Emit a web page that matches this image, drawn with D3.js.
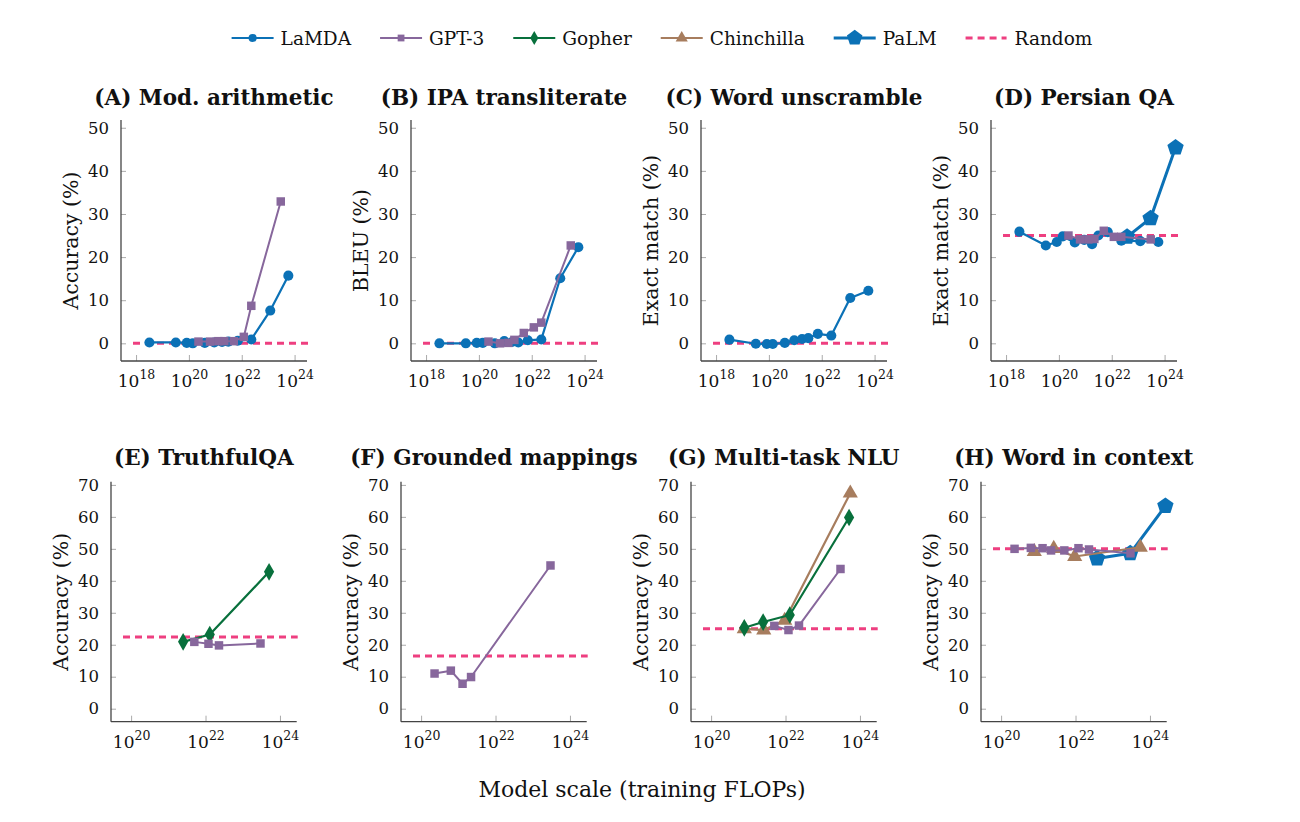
<!DOCTYPE html>
<html><head><meta charset="utf-8">
<script src="https://cdn.jsdelivr.net/npm/d3@7"></script>
<style>body{margin:0;background:#fff}svg{display:block}text{font-family:"DejaVu Serif",serif;fill:#111}</style>
</head><body><svg id="c" width="1300" height="822"></svg>
<script>
// ---- data ----
const seriesNames = ["LaMDA","GPT-3","Gopher","Chinchilla","PaLM","Random"];
const lamdaFlops = [3.2e18,3.2e19,8.3e19,1.4e20,4.0e20,9.1e20,1.8e21,3.1e21,7.1e21,2.3e22,1.2e23,5.8e23];
const gpt3Flops = [2.3e20,6.3e20,1.3e21,2.2e21,5.0e21,1.2e22,2.3e22,3.0e23];
const gopherFlops = [7.8e20,2.5e21,1.3e22,5.1e23];
const chinchillaFlops = [7.8e20,2.6e21,9.5e21,5.5e23];
const palmFlops = [3.8e22,2.95e23,2.6e24];

const panelTitles = ["(A) Mod. arithmetic","(B) IPA transliterate","(C) Word unscramble","(D) Persian QA",
  "(E) TruthfulQA","(F) Grounded mappings","(G) Multi-task NLU","(H) Word in context"];
const panelYLabels = ["Accuracy (%)","BLEU (%)","Exact match (%)","Exact match (%)",
  "Accuracy (%)","Accuracy (%)","Accuracy (%)","Accuracy (%)"];
const randomBaseline = [0,0,0,25,22.4,16.5,25,50];

const lamdaA = [0.2,0.2,0.1,0,0.1,0.2,0.3,0.4,0.6,0.9,7.6,15.7];
const lamdaB = [0,0,0.1,0.1,0,0.5,0.3,0.2,0.7,0.9,15.1,22.3];
const lamdaC = [0.85,-0.1,-0.15,-0.15,0.1,0.7,1.0,1.2,2.2,1.8,10.5,12.2];
const lamdaD = [25.9,22.7,23.5,24.8,23.4,24.0,23.0,25.0,25.8,23.8,23.7,23.5];

const gpt3A = [0.4,0.4,0.5,0.5,0.5,1.5,8.7,32.9];
const gpt3B = [0.4,0,0.1,0.8,2.4,3.7,4.8,22.7];
const gpt3D = [25.0,24.1,24.1,24.2,26.1,24.7,24.7,24.1];
const gpt3E = [null,null,null,null,20.9,20.3,19.8,20.4];
const gpt3F = [11.0,11.9,7.8,9.9,null,null,null,44.8];
const gpt3G = [null,null,null,null,25.9,24.6,26.0,43.7];
const gpt3H = [50.0,50.3,50.2,49.5,49.5,50.2,49.8,48.6];

const gopherE = [null,20.9,23.2,42.8];
const gopherG = [25.3,27.1,29.3,59.8];
const chinchillaG = [25.0,24.6,27.6,67.4];
const chinchillaH = [49.1,50.1,47.6,50.5];
const palmD = [24.7,29.0,45.4];
const palmH = [47.0,48.6,63.4];

const topYTicks = [0,10,20,30,40,50];
const bottomYTicks = [0,10,20,30,40,50,60,70];
const topXTicks = [1e18,1e20,1e22,1e24];
const bottomXTicks = [1e20,1e22,1e24];
const xLabel = "Model scale (training FLOPs)";

// per panel series list
const panelSeries = [
  {LaMDA:lamdaA,"GPT-3":gpt3A},
  {LaMDA:lamdaB,"GPT-3":gpt3B},
  {LaMDA:lamdaC},
  {LaMDA:lamdaD,"GPT-3":gpt3D,PaLM:palmD},
  {"GPT-3":gpt3E,Gopher:gopherE},
  {"GPT-3":gpt3F},
  {"GPT-3":gpt3G,Gopher:gopherG,Chinchilla:chinchillaG},
  {"GPT-3":gpt3H,Chinchilla:chinchillaH,PaLM:palmH}
];

// ---- styles ----
const flopsOf = {LaMDA:lamdaFlops,"GPT-3":gpt3Flops,Gopher:gopherFlops,Chinchilla:chinchillaFlops,PaLM:palmFlops};
const color = {LaMDA:"#0b71b6","GPT-3":"#87679c",Gopher:"#08703c",Chinchilla:"#a77d5e",PaLM:"#0b71b6",Random:"#ee3f80"};
const lw = {LaMDA:2.2,"GPT-3":2,Gopher:2.2,Chinchilla:2.2,PaLM:3};
const symType = {LaMDA:d3.symbolCircle,"GPT-3":d3.symbolSquare,Gopher:d3.symbolDiamond,Chinchilla:d3.symbolTriangle,PaLM:null};
const symSize = {LaMDA:80,"GPT-3":72,Gopher:90,Chinchilla:100,PaLM:150};
const drawOrder = ["PaLM","LaMDA","Chinchilla","Gopher","GPT-3"];

function pentagon(r){
  const pts=[];
  for(let i=0;i<5;i++){const a=-Math.PI/2+i*2*Math.PI/5;pts.push([r*Math.cos(a),r*Math.sin(a)]);}
  return "M"+pts.map(p=>p.join(",")).join("L")+"Z";
}
function markerPath(name){
  if(name==="PaLM") return pentagon(8.6);
  return d3.symbol().type(symType[name]).size(symSize[name])();
}

const svg = d3.select("#c");

// ---- legend ----
const leg = svg.append("g");
let lx = 0;
seriesNames.forEach((n,i)=>{
  const g = leg.append("g").attr("transform",`translate(${lx},0)`);
  if(n==="Random"){
    g.append("line").attr("x1",0).attr("x2",41).attr("y1",0).attr("y2",0)
      .attr("stroke",color[n]).attr("stroke-width",3).attr("stroke-dasharray","7,5");
  } else {
    g.append("line").attr("x1",0).attr("x2",42).attr("y1",0).attr("y2",0)
      .attr("stroke",color[n]).attr("stroke-width",lw[n]);
    g.append("path").attr("d",markerPath(n)).attr("transform",`translate(21,0) scale(${n==="PaLM"?0.95:0.8})`).attr("fill",color[n]);
  }
  const t = g.append("text").attr("x",49).attr("y",6.5).attr("font-size",18.5).text(n);
  lx += 49 + t.node().getComputedTextLength() + 29;
});
const legW = lx - 29;
leg.attr("transform",`translate(${662 - legW/2},38)`);

// ---- panels ----
panelSeries.forEach((ser,pi)=>{
  const top = pi<4;
  const col = pi%4;
  const x0 = (top?121:111) + col*290;
  const x1 = x0 + (top?186:185.7);
  const yT = top?120:481.7, yB = top?361:721.7;
  const x = d3.scaleLog().domain(top?[Math.pow(10,17.43),Math.pow(10,24.47)]:[Math.pow(10,19.46),Math.pow(10,24.45)]).range([x0,x1]);
  const y = d3.scaleLinear().domain(top?[-4.1,51.8]:[-4.07,71.0]).range([yB,yT]);
  const g = svg.append("g");

  // y axis
  const yAxis = d3.axisLeft(y).tickValues(top?topYTicks:bottomYTicks).tickSize(-5).tickPadding(12).tickFormat(d3.format("d"));
  const ya = g.append("g").attr("transform",`translate(${x0},0)`).call(yAxis);
  ya.select(".domain").remove();
  ya.selectAll(".tick line").attr("stroke","#aaa").attr("stroke-width",1);
  ya.selectAll(".tick text").attr("font-size",16.5).attr("fill","#111").attr("font-family","DejaVu Serif");
  // x axis
  const xAxis = d3.axisBottom(x).tickValues(top?topXTicks:bottomXTicks).tickSize(-6).tickFormat("");
  const xa = g.append("g").attr("transform",`translate(0,${yB})`).call(xAxis);
  xa.select(".domain").remove();
  xa.selectAll(".tick line").attr("stroke","#aaa").attr("stroke-width",1);
  xa.selectAll(".tick").each(function(d){
    const e = Math.round(Math.log10(d));
    const t = d3.select(this).append("text").attr("y",26).attr("text-anchor","middle").attr("font-size",17).attr("fill","#111");
    t.append("tspan").text("10");
    t.append("tspan").attr("dy",-8).attr("font-size",12.5).text(e);
  });
  // axis lines
  g.append("line").attr("x1",x0).attr("x2",x0).attr("y1",yT).attr("y2",yB).attr("stroke","#444").attr("stroke-width",1.3);
  g.append("line").attr("x1",x0).attr("x2",x1).attr("y1",yB).attr("y2",yB).attr("stroke","#444").attr("stroke-width",1.3);

  // random baseline
  g.append("line").attr("x1",x0+12).attr("x2",x1+1).attr("y1",y(randomBaseline[pi])).attr("y2",y(randomBaseline[pi]))
    .attr("stroke",color.Random).attr("stroke-width",3).attr("stroke-dasharray","7,5");

  // series
  drawOrder.forEach(n=>{
    if(!ser[n]) return;
    const pts = ser[n].map((v,i)=>({f:flopsOf[n][i],v})).filter(d=>d.v!=null);
    g.append("path").datum(pts).attr("fill","none").attr("stroke",color[n]).attr("stroke-width",lw[n])
      .attr("stroke-linejoin","round")
      .attr("d",d3.line().x(d=>x(d.f)).y(d=>y(d.v)));
    g.selectAll(null).data(pts).enter().append("path").attr("d",markerPath(n))
      .attr("transform",d=>`translate(${x(d.f)},${y(d.v)})`).attr("fill",color[n]);
  });

  // title
  g.append("text").attr("x",(x0+x1)/2).attr("y",top?105:465).attr("text-anchor","middle")
    .attr("font-size",21.5).attr("font-weight","bold").text(panelTitles[pi]);
  // y label
  g.append("text").attr("transform",`translate(${x0-43},${(yT+yB)/2}) rotate(-90)`).attr("text-anchor","middle")
    .attr("font-size",20.5).text(panelYLabels[pi]);
});

svg.append("text").attr("x",642).attr("y",797).attr("text-anchor","middle").attr("font-size",22).text(xLabel);
</script></body></html>
